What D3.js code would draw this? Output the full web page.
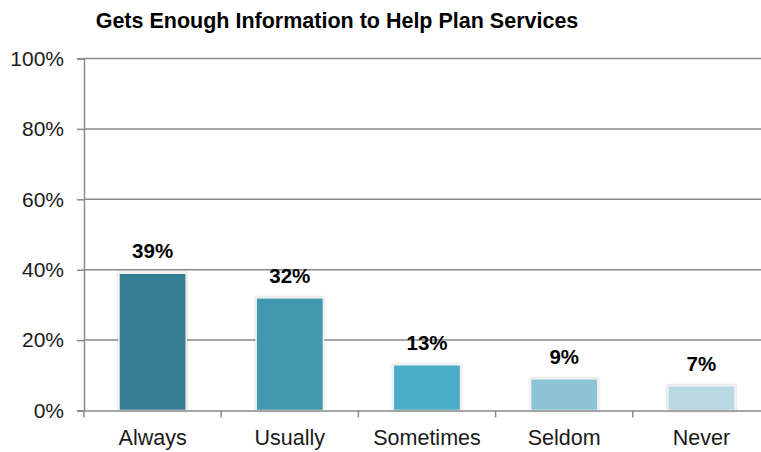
<!DOCTYPE html>
<html>
<head>
<meta charset="utf-8">
<script src="https://cdn.jsdelivr.net/npm/d3@7"></script>
<style>
  html, body { margin: 0; padding: 0; background: #fff; }
  svg { display: block; font-family: "Liberation Sans", Arial, sans-serif; }
</style>
</head>
<body>
<svg id="chart" width="761" height="452"></svg>
<script>
// Survey responses: share of respondents per answer
const categories = ["Always", "Usually", "Sometimes", "Seldom", "Never"];
const values = [39, 32, 13, 9, 7];
const barColors = ["#367e92", "#4298ae", "#4aadc7", "#8ec3d5", "#b8d8e4"];
const yTicks = [0, 20, 40, 60, 80, 100];
const titleText = "Gets Enough Information to Help Plan Services";

const svg = d3.select("#chart");
const margin = { left: 84, top: 58.5, bottom: 410.5, right: 770 };

const x = d3.scaleBand()
  .domain(categories)
  .range([margin.left, margin.right])
  .paddingInner(0.51)
  .paddingOuter(0.255);

const y = d3.scaleLinear()
  .domain([0, 100])
  .range([margin.bottom, margin.top]);

// soft shadow around bars
const defs = svg.append("defs");
const f = defs.append("filter").attr("id", "shadow")
  .attr("x", "-20%").attr("y", "-20%").attr("width", "140%").attr("height", "140%");
f.append("feDropShadow").attr("dx", 0).attr("dy", 0).attr("stdDeviation", 1.2)
  .attr("flood-color", "#000").attr("flood-opacity", 0.25);

// title
svg.append("text")
  .attr("x", 337).attr("y", 28)
  .attr("text-anchor", "middle")
  .attr("font-weight", "bold")
  .attr("font-size", 21.5)
  .attr("fill", "#000")
  .text(titleText);

// horizontal gridlines
svg.append("g")
  .selectAll("line")
  .data(yTicks.filter(d => d > 0))
  .join("line")
  .attr("x1", margin.left).attr("x2", 761)
  .attr("y1", d => y(d)).attr("y2", d => y(d))
  .attr("stroke", "#8a8a8a").attr("stroke-width", 1.5);

// y axis
const yAxis = svg.append("g")
  .attr("transform", `translate(${margin.left},0)`)
  .call(d3.axisLeft(y).tickValues(yTicks).tickFormat(d => d + "%").tickSize(7).tickPadding(13));
yAxis.select(".domain").attr("stroke", "#8a8a8a").attr("stroke-width", 1.5);
yAxis.selectAll(".tick line").attr("stroke", "#8a8a8a").attr("stroke-width", 1.5);
yAxis.selectAll(".tick text")
  .attr("font-size", 21).attr("fill", "#1a1a1a")
  .attr("font-family", "'Liberation Sans', Arial, sans-serif");

// bars
svg.append("g")
  .selectAll("rect")
  .data(values)
  .join("rect")
  .attr("x", (d, i) => x(categories[i]))
  .attr("y", d => y(d))
  .attr("width", x.bandwidth())
  .attr("height", d => y(0) - y(d))
  .attr("fill", (d, i) => barColors[i])
  .attr("stroke", "#f2f2f2").attr("stroke-width", 1.5)
  .attr("filter", "url(#shadow)");

// x axis
const xAxis = svg.append("g")
  .attr("transform", `translate(0,${margin.bottom})`)
  .call(d3.axisBottom(x).tickSize(0).tickPadding(19));
xAxis.select(".domain").attr("stroke", "#8a8a8a").attr("stroke-width", 1.5);
xAxis.selectAll(".tick text")
  .attr("font-size", 21.5).attr("fill", "#1a1a1a")
  .attr("font-family", "'Liberation Sans', Arial, sans-serif");

// category separator ticks
const step = x.step();
svg.append("g")
  .selectAll("line")
  .data(d3.range(categories.length + 1))
  .join("line")
  .attr("x1", i => margin.left + i * step)
  .attr("x2", i => margin.left + i * step)
  .attr("y1", margin.bottom).attr("y2", margin.bottom + 7)
  .attr("stroke", "#8a8a8a").attr("stroke-width", 1.5);

// value labels
svg.append("g")
  .selectAll("text")
  .data(values)
  .join("text")
  .attr("x", (d, i) => x(categories[i]) + x.bandwidth() / 2)
  .attr("y", d => y(d) - 15)
  .attr("text-anchor", "middle")
  .attr("font-weight", "bold")
  .attr("font-size", 20.5)
  .attr("fill", "#000")
  .text(d => d + "%");
</script>
</body>
</html>
